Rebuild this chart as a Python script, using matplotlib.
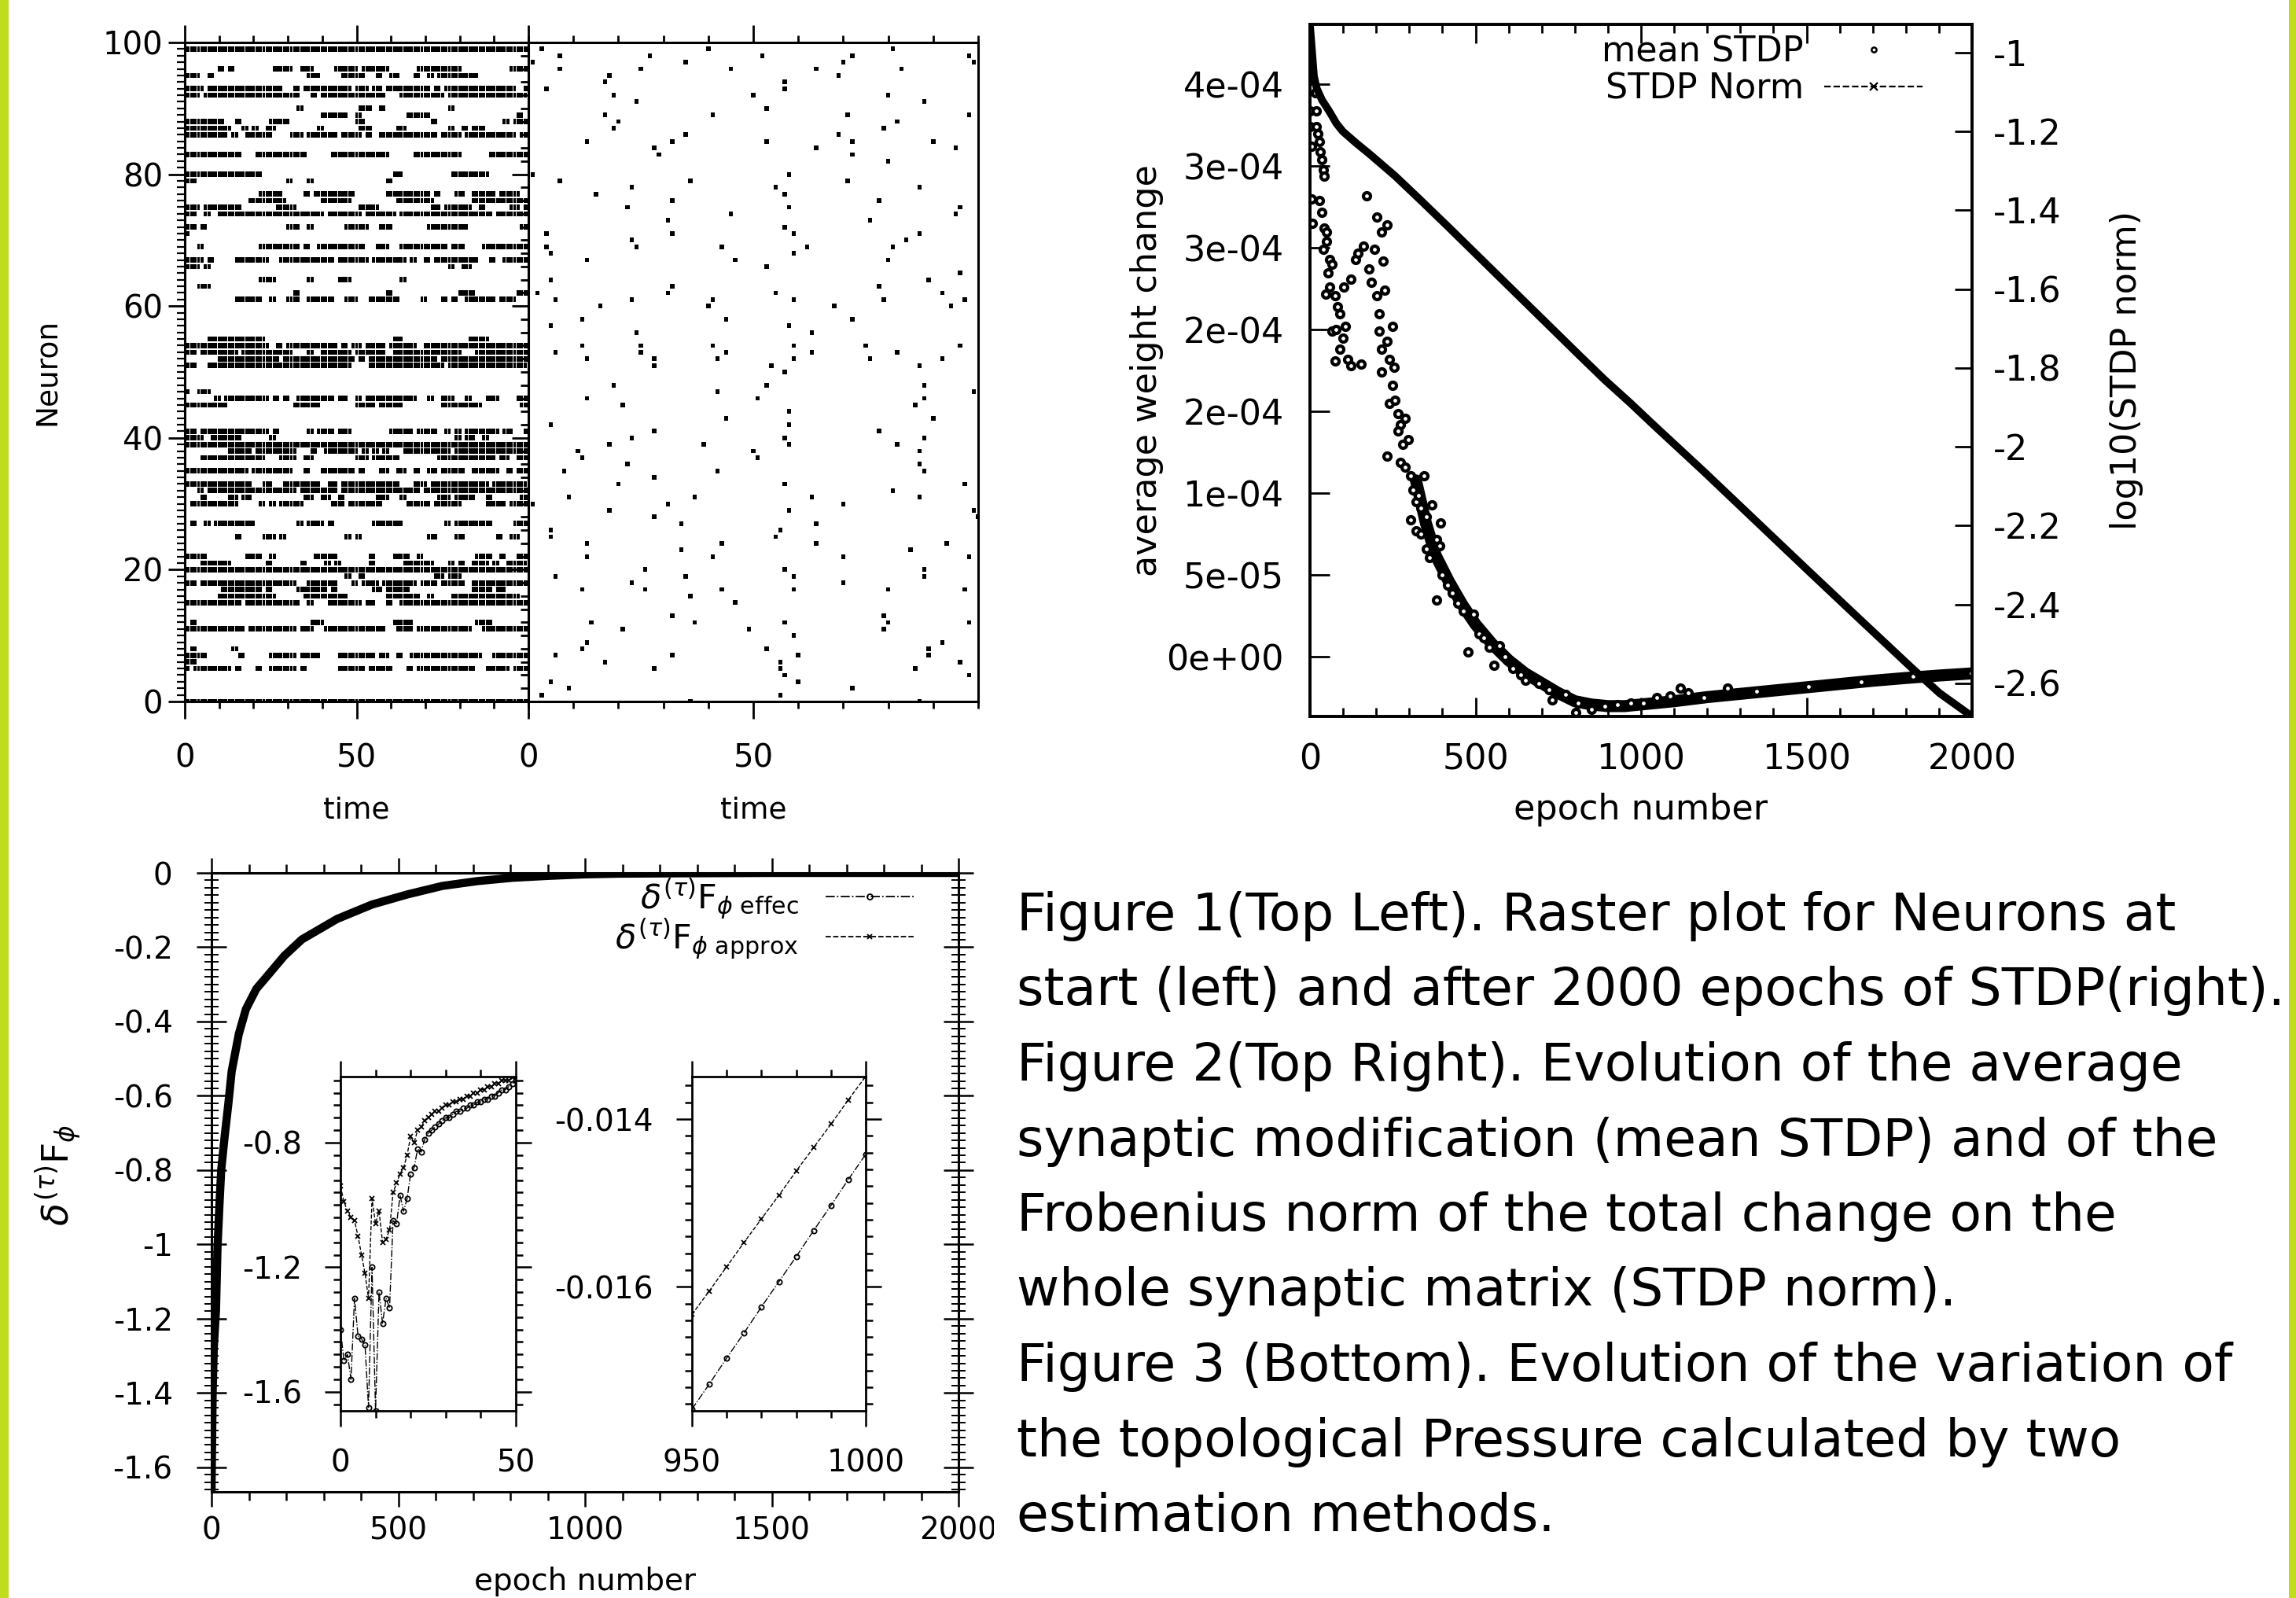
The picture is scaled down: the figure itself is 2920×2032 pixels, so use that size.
import numpy as np
import matplotlib
matplotlib.use('Agg')
import matplotlib.pyplot as plt
from matplotlib.lines import Line2D
from matplotlib.patches import Rectangle
from matplotlib.ticker import MultipleLocator, FixedLocator, FormatStrFormatter

plt.rcParams['font.family'] = ['DejaVu Sans']
plt.rcParams['axes.unicode_minus'] = False
plt.rcParams['mathtext.fontset'] = 'dejavusans'

# ---------------- Figure 1: raster at start (spike runs per neuron, inclusive) ----------------
left_neurons = [99, 96, 95, 93, 92, 90, 89, 88, 87, 86, 83, 80, 79, 77, 76, 75, 74, 72, 71, 69,
                67, 66, 64, 63, 62, 61, 55, 54, 53, 52, 51, 47, 46, 45, 41, 40, 39, 38, 37, 35,
                33, 32, 31, 30, 27, 25, 22, 21, 20, 19, 18, 17, 16, 15, 12, 11, 8, 7, 6, 5, 0]
left_segments = [
    [(0, 100)],
    [(10, 11), (13, 14), (26, 31), (34, 37), (44, 50), (52, 59), (68, 80), (95, 100)],
    [(0, 4), (7, 8), (36, 39), (46, 52), (56, 57), (60, 62), (67, 68), (71, 72), (74, 85)],
    [(0, 5), (7, 28), (32, 33), (35, 48), (50, 53), (55, 57), (59, 71), (73, 74), (76, 96), (99, 100)],
    [(0, 1), (2, 4), (6, 33), (37, 38), (40, 58), (63, 75), (77, 99)],
    [(33, 34), (51, 54), (57, 58), (77, 78)],
    [(40, 47), (50, 51), (65, 71), (97, 98)],
    [(0, 11), (15, 16), (25, 30), (50, 52), (72, 73), (93, 94), (96, 100)],
    [(1, 13), (17, 18), (20, 21), (24, 26), (39, 40), (51, 54), (62, 64), (77, 78), (81, 82), (84, 87)],
    [(0, 12), (14, 15), (18, 25), (31, 34), (36, 44), (46, 51), (53, 54), (57, 73), (75, 80), (82, 96), (98, 100)],
    [(0, 16), (21, 35), (43, 59), (67, 80), (89, 100)],
    [(0, 22), (61, 63), (78, 88)],
    [(1, 3), (30, 31), (36, 37), (59, 60)],
    [(22, 28), (35, 36), (38, 49), (59, 71), (73, 74), (79, 81), (84, 90), (92, 97)],
    [(19, 29), (40, 48), (62, 72), (84, 100)],
    [(1, 4), (6, 16), (27, 32), (51, 56), (72, 74), (76, 83), (86, 87), (95, 97), (99, 100)],
    [(0, 3), (6, 7), (10, 40), (42, 51), (53, 61), (63, 89), (91, 100)],
    [(0, 3), (5, 6), (30, 33), (36, 37), (47, 53), (57, 60), (71, 82), (98, 100)],
    [(0, 1)],
    [(4, 5), (22, 33), (35, 36), (39, 52), (56, 59), (63, 76), (78, 81), (87, 100)],
    [(0, 5), (7, 8), (15, 24), (28, 43), (45, 53), (55, 64), (66, 67), (70, 71), (73, 85), (89, 90), (93, 100)],
    [(0, 4), (6, 7), (77, 78), (81, 83)],
    [(22, 26), (36, 37), (45, 48), (63, 64)],
    [(4, 7)],
    [(32, 33), (59, 60), (80, 84), (97, 100)],
    [(15, 22), (25, 26), (30, 33), (36, 43), (47, 50), (54, 62), (69, 70), (75, 76), (78, 79), (82, 90), (92, 96)],
    [(7, 23), (61, 63), (83, 88)],
    [(0, 24), (27, 28), (30, 35), (36, 44), (46, 47), (49, 51), (53, 58), (60, 67), (70, 73), (74, 92), (93, 100)],
    [(0, 3), (5, 15), (17, 31), (36, 37), (40, 48), (50, 58), (61, 80), (85, 93), (94, 100)],
    [(10, 27), (29, 49), (51, 52), (54, 73), (75, 80), (81, 97), (98, 100)],
    [(0, 3), (7, 28), (29, 48), (54, 75), (77, 99)],
    [(0, 1), (4, 7)],
    [(9, 10), (12, 24), (26, 27), (29, 30), (33, 43), (45, 47), (50, 51), (53, 67), (71, 72), (75, 78), (82, 83), (88, 91), (97, 100)],
    [(0, 12), (32, 39), (50, 55), (57, 63), (75, 86), (98, 100)],
    [(0, 3), (5, 17), (18, 24), (26, 27), (36, 37), (39, 43), (45, 48), (60, 66), (68, 73), (76, 77), (79, 80), (82, 91), (93, 95), (99, 100)],
    [(0, 5), (8, 16), (25, 26), (79, 80), (82, 84), (87, 88)],
    [(0, 100)],
    [(13, 19), (21, 32), (37, 38), (41, 50), (52, 53), (55, 56), (58, 59), (64, 77), (79, 84), (85, 100)],
    [(5, 18), (19, 23), (28, 32), (35, 37), (50, 53), (55, 62), (74, 88), (89, 90), (92, 94), (97, 100)],
    [(0, 3), (4, 18), (20, 31), (35, 36), (40, 49), (51, 52), (57, 59), (62, 64), (67, 68), (71, 73), (75, 81), (84, 91), (94, 95), (97, 100)],
    [(0, 19), (23, 25), (29, 39), (42, 44), (46, 62), (67, 70), (72, 88), (90, 99)],
    [(4, 5), (7, 32), (34, 44), (46, 68), (70, 100)],
    [(0, 0), (5, 6), (13, 15), (17, 19), (35, 37), (40, 42), (45, 46), (56, 59), (63, 64), (74, 77), (79, 84), (88, 89), (98, 100)],
    [(0, 0), (2, 15), (22, 23), (25, 26), (28, 34), (43, 46), (48, 57), (65, 71), (73, 80), (88, 93), (95, 100)],
    [(2, 3), (6, 7), (9, 20), (33, 34), (36, 40), (42, 43), (55, 63), (76, 77), (79, 89), (96, 100)],
    [(15, 16), (23, 26), (28, 29), (47, 48), (50, 51), (71, 73), (79, 81), (91, 92), (95, 97)],
    [(1, 6), (18, 22), (25, 26), (38, 44), (54, 55), (61, 65), (68, 69), (85, 89), (92, 93), (97, 100)],
    [(5, 13), (24, 25), (34, 35), (41, 42), (44, 45), (54, 55), (64, 70), (71, 72), (77, 78), (80, 81), (84, 88), (90, 91), (94, 99)],
    [(0, 100)],
    [(0, 0), (47, 48), (51, 52), (73, 75), (77, 80)],
    [(0, 3), (5, 32), (36, 44), (49, 50), (52, 56), (58, 67), (69, 73), (75, 81), (84, 100)],
    [(11, 22), (24, 25), (33, 41), (43, 44), (55, 57), (59, 65), (84, 89), (91, 93)],
    [(10, 15), (16, 26), (35, 47), (59, 68), (71, 72), (78, 93), (94, 97)],
    [(0, 10), (11, 12), (13, 16), (18, 33), (36, 37), (42, 51), (53, 55), (59, 60), (63, 93), (94, 100)],
    [(2, 3), (37, 40), (61, 66), (85, 89)],
    [(0, 17), (19, 32), (34, 37), (41, 58), (62, 66), (68, 71), (72, 83), (87, 100)],
    [(2, 3), (14, 15)],
    [(0, 6), (16, 17), (25, 32), (34, 39), (45, 55), (57, 59), (62, 63), (66, 70), (71, 86), (90, 100)],
    [(0, 3)],
    [(0, 1), (3, 13), (15, 16), (21, 22), (25, 32), (34, 35), (45, 52), (54, 60), (65, 66), (68, 84), (88, 94), (96, 100)],
    [(0, 100)],
]

# ---------------- Figure 1: raster after 2000 epochs (spike times per neuron) ----------------
right_neurons = [99, 98, 97, 96, 95, 94, 93, 92, 91, 90, 89, 88, 87, 86, 85, 84, 83, 82, 80, 79,
                 78, 77, 76, 75, 74, 73, 72, 71, 70, 69, 68, 67, 66, 65, 64, 63, 62, 61, 60, 58,
                 57, 56, 54, 53, 52, 51, 50, 48, 47, 46, 45, 44, 43, 42, 41, 40, 39, 38, 37, 36,
                 35, 34, 33, 32, 31, 30, 29, 28, 27, 26, 25, 24, 23, 22, 20, 19, 18, 17, 16, 15,
                 13, 12, 11, 10, 9, 8, 7, 6, 5, 4, 3, 2, 1, 0]
right_times = [
    [3, 40, 81], [7, 27, 52, 72, 98], [1, 35, 70, 99], [7, 25, 45, 64, 83], [18, 69], [17, 57],
    [4, 57], [19, 50, 80], [24, 88], [53], [17, 41, 71, 98], [20, 82], [19, 79], [35, 69],
    [13, 32, 53, 72, 90], [28, 64, 95], [29, 72], [80], [1, 58], [7, 36, 71],
    [23, 55, 87], [15, 57], [32, 78], [22, 58, 96], [45, 95], [31, 76], [57], [4, 32, 59, 87],
    [23, 84], [4, 24, 43, 62, 81], [5, 59], [13, 46, 80], [53], [96], [5, 89], [32, 78],
    [2, 31, 55, 92], [6, 23, 41, 59, 79, 97], [16, 40, 68, 94], [12, 44, 72],
    [5, 58], [24, 63], [12, 25, 41, 59, 75, 96], [6, 25, 44, 63, 82], [13, 28, 42, 59, 76, 92],
    [28, 54, 87], [57], [19, 53, 88], [42, 99], [13, 51, 88], [21, 86], [58], [44, 90],
    [5, 58], [28, 78], [23, 57, 88], [18, 39, 58, 82], [11, 50, 87], [12, 51], [22, 87],
    [8, 42, 88], [28], [20, 57, 97], [81], [9, 37, 63, 87], [1, 31, 70], [18, 58, 99],
    [28, 100], [34, 64], [5, 56], [5, 55], [13, 43, 64, 93], [34, 85], [13, 41, 70, 98],
    [26, 57, 88], [6, 35, 59, 88], [23, 70], [12, 26, 43, 59, 80, 97], [36], [46],
    [32, 79], [14, 37, 57, 80, 98], [21, 49, 79], [59], [13, 92], [12, 53, 89],
    [6, 32, 60, 89], [17, 56, 96], [28, 56, 86], [57, 98], [5, 60], [9, 72], [3, 56], [36, 87],
]

# ---------------- Figure 2: mean STDP (units of 1e-4) and log10(STDP norm) ----------------
mean_epoch = [0, 0, 0, 4, 16, 20, 20, 24, 28, 32, 36, 40, 43, 4, 8, 28, 36, 43, 51, 51,
              40, 59, 67, 55, 59, 47, 75, 83, 91, 67, 79, 107, 99, 91, 75, 115, 123, 154, 103, 123,
              138, 146, 162, 170, 178, 186, 194, 202, 202, 209, 217, 221, 225, 233, 209, 217, 233, 249, 217, 241,
              253, 249, 241, 257, 265, 273, 288, 233, 265, 281, 296, 273, 288, 304, 312, 320, 328, 336, 344, 304,
              320, 336, 352, 352, 368, 360, 383, 391, 395, 399, 415, 431, 446, 462, 383, 494, 510, 478, 526, 541,
              557, 573, 589, 613, 636, 652, 692, 723, 731, 771, 803, 810, 850, 890, 929, 969, 1008, 1048, 1087, 1119,
              1143, 1190, 1261, 1348, 1506, 1664, 1823, 1997]
mean_val = [3.55, 3.34, 3.24, 3.12, 3.45, 3.34, 3.24, 3.20, 3.15, 3.09, 3.04, 2.98, 2.94, 2.80, 2.65, 2.79, 2.72, 2.62, 2.60, 2.54,
            2.49, 2.43, 2.40, 2.35, 2.26, 2.22, 2.21, 2.14, 2.10, 1.99, 2.00, 2.02, 1.95, 1.88, 1.81, 1.82, 1.78, 1.79, 2.26, 2.31,
            2.43, 2.47, 2.51, 2.82, 2.37, 2.29, 2.49, 2.69, 2.21, 2.10, 2.60, 2.42, 2.24, 2.64, 1.99, 1.88, 1.93, 2.02, 1.74, 1.82,
            1.77, 1.66, 1.55, 1.57, 1.49, 1.42, 1.46, 1.23, 1.38, 1.30, 1.33, 1.19, 1.16, 1.11, 1.02, 0.95, 0.99, 0.91, 1.11, 0.84,
            0.77, 0.75, 0.66, 0.86, 0.93, 0.61, 0.72, 0.68, 0.82, 0.50, 0.44, 0.39, 0.33, 0.28, 0.35, 0.26, 0.14, 0.03, 0.12, 0.06,
            -0.05, 0.07, 0.00, -0.07, -0.11, -0.14, -0.16, -0.20, -0.26, -0.23, -0.34, -0.28, -0.32, -0.30, -0.29, -0.28, -0.28, -0.25, -0.24, -0.19,
            -0.22, -0.25, -0.19, -0.21, -0.18, -0.15, -0.12, -0.10]
mean_band_epoch = [320, 350, 380, 420, 460, 500, 550, 600, 650, 700, 750, 800, 850, 900, 950, 1000,
                   1100, 1200, 1300, 1400, 1500, 1600, 1700, 1800, 1900, 2000]
mean_band_val = [1.08, 0.82, 0.62, 0.46, 0.32, 0.20, 0.08, -0.02, -0.10, -0.16, -0.22, -0.27, -0.29,
                 -0.30, -0.30, -0.29, -0.27, -0.245, -0.225, -0.205, -0.185, -0.165, -0.145, -0.128, -0.113, -0.10]
norm_epoch = [0, 12, 20, 36, 59, 80, 99, 140, 178, 257, 336, 415, 494, 573, 652, 731, 810, 890, 969,
              1032, 1190, 1348, 1506, 1664, 1823, 1902, 2000]
norm_val = [-0.93, -1.06, -1.09, -1.12, -1.15, -1.18, -1.20, -1.23, -1.256, -1.313, -1.376, -1.44, -1.505,
            -1.57, -1.635, -1.70, -1.765, -1.83, -1.89, -1.94, -2.063, -2.189, -2.315, -2.44, -2.565,
            -2.625, -2.684]
stdp_ticks = [0, 0.5, 1.0, 1.5, 2.0, 2.5, 3.0, 3.5]
stdp_tick_labels = ['0e+00', '5e-05', '1e-04', '2e-04', '2e-04', '3e-04', '3e-04', '4e-04']
norm_ticks = [-1, -1.2, -1.4, -1.6, -1.8, -2, -2.2, -2.4, -2.6]

# ---------------- Figure 3: variation of the topological pressure ----------------
main_epoch = [0, 3, 6, 12, 16, 21, 26, 35, 45, 54, 73, 92, 120, 148, 195, 242, 336, 430, 524,
              618, 712, 806, 900, 994, 1088, 1250, 1500, 1750, 2000]
main_val = [-1.662, -1.40, -1.28, -1.175, -1.009, -0.898, -0.799, -0.711, -0.622, -0.534, -0.434, -0.367,
            -0.312, -0.279, -0.223, -0.179, -0.124, -0.085, -0.058, -0.035, -0.022, -0.013, -0.008, -0.004,
            -0.002, -0.001, 0.0, 0.0, 0.0]
ins1_epoch = list(range(0, 51))
ins1_approx = [-0.94, -0.99, -1.02, -1.04, -1.05, -1.10, -1.16, -1.22, -1.30, -0.98, -1.06, -1.02, -1.12,
               -1.11, -1.08, -0.96, -0.93, -0.90, -0.88, -0.84, -0.78, -0.80, -0.76, -0.75, -0.73, -0.72,
               -0.71, -0.70, -0.70, -0.69, -0.68, -0.68, -0.67, -0.67, -0.66, -0.66, -0.65, -0.65, -0.64,
               -0.64, -0.63, -0.63, -0.62, -0.62, -0.61, -0.61, -0.60, -0.60, -0.60, -0.59, -0.59]
ins1_effec = [-1.40, -1.50, -1.48, -1.56, -1.30, -1.42, -1.43, -1.45, -1.65, -1.20, -1.66, -1.28, -1.38,
              -1.30, -1.33, -1.05, -1.06, -0.97, -1.02, -0.98, -0.90, -0.88, -0.82, -0.83, -0.79, -0.77,
              -0.76, -0.75, -0.74, -0.73, -0.72, -0.72, -0.71, -0.70, -0.70, -0.69, -0.69, -0.68, -0.68,
              -0.67, -0.67, -0.66, -0.66, -0.65, -0.65, -0.64, -0.63, -0.63, -0.62, -0.61, -0.60]
ins2_epoch = [950, 955, 960, 965, 970, 975, 980, 985, 990, 995, 1000]
ins2_approx = [-0.01633, -0.01605, -0.01576, -0.01547, -0.01519, -0.01491, -0.01462, -0.01434,
               -0.01406, -0.01377, -0.01349]
ins2_effec = [-0.01746, -0.01716, -0.01685, -0.01655, -0.01624, -0.01594, -0.01564, -0.01533,
              -0.01503, -0.01472, -0.01442]

caption_lines = [
    "Figure 1(Top Left). Raster plot for Neurons at",
    "start (left) and after 2000 epochs of STDP(right).",
    "Figure 2(Top Right). Evolution of the average",
    "synaptic modification (mean STDP) and of the",
    "Frobenius norm of the total change on the",
    "whole synaptic matrix (STDP norm).",
    "Figure 3 (Bottom). Evolution of the variation of",
    "the topological Pressure calculated by two",
    "estimation methods.",
]

W, H = 2920, 2032
fig = plt.figure(figsize=(W / 100, H / 100), dpi=100)
fig.patch.set_facecolor('white')


def frame(x0, y0, x1, y1):
    # pixel box (top-left origin) -> figure fraction
    return [x0 / W, 1 - y1 / H, (x1 - x0) / W, (y1 - y0) / H]


def thick(ax, lw):
    for s in ax.spines.values():
        s.set_linewidth(lw)


# ---- raster, left panel ----
axL = fig.add_axes(frame(235, 54, 672, 892))
lt, ln = [], []
for n, segs in zip(left_neurons, left_segments):
    for a, b in segs:
        for t in range(a, b + 1):
            lt.append(t)
            ln.append(n)
axL.bar(lt, 0.8, width=0.9, bottom=np.array(ln) - 0.4, color='black', linewidth=0)
axL.set_xlim(0, 100)
axL.set_ylim(0, 100)
axL.xaxis.set_major_locator(FixedLocator([0, 50]))
axL.xaxis.set_minor_locator(MultipleLocator(10))
axL.yaxis.set_major_locator(MultipleLocator(20))
axL.yaxis.set_minor_locator(MultipleLocator(1))
axL.tick_params(axis='x', which='both', direction='out', top=True, bottom=True, width=2)
axL.tick_params(axis='x', which='major', length=16, pad=22, labelsize=29)
axL.tick_params(axis='x', which='minor', length=6.5)
axL.tick_params(axis='y', which='both', direction='out', left=True, right=False, width=2)
axL.tick_params(axis='y', which='major', length=15, pad=5, labelsize=29)
axL.tick_params(axis='y', which='minor', length=7, width=1.6)
axL.set_xlabel('time', fontsize=27, va='center')
axL.xaxis.set_label_coords(0.5, -0.165)
axL.set_ylabel('Neuron', fontsize=27, va='center')
axL.yaxis.set_label_coords(-0.40, 0.5)
thick(axL, 2.2)

# ---- raster, right panel ----
axR = fig.add_axes(frame(672, 54, 1244, 892))
rt, rn = [], []
for n, times in zip(right_neurons, right_times):
    for t in times:
        rt.append(t)
        rn.append(n)
axR.bar(rt, 0.7, width=0.95, bottom=np.array(rn) - 0.35, color='black', linewidth=0)
axR.set_xlim(0, 100)
axR.set_ylim(0, 100)
axR.xaxis.set_major_locator(FixedLocator([0, 50]))
axR.xaxis.set_minor_locator(MultipleLocator(10))
axR.yaxis.set_major_locator(MultipleLocator(20))
axR.yaxis.set_minor_locator(MultipleLocator(2))
axR.tick_params(axis='x', which='both', direction='out', top=True, bottom=True, width=2)
axR.tick_params(axis='x', which='major', length=16, pad=22, labelsize=29)
axR.tick_params(axis='x', which='minor', length=6.5)
axR.tick_params(axis='y', which='both', direction='out', left=True, right=False, labelleft=False, width=2)
axR.tick_params(axis='y', which='major', length=15)
axR.tick_params(axis='y', which='minor', length=7)
axR.set_xlabel('time', fontsize=27, va='center')
axR.xaxis.set_label_coords(0.5, -0.165)
thick(axR, 2.2)

# ---- mean STDP / STDP norm ----
ax2 = fig.add_axes(frame(1666, 31, 2508, 911))
ax2.plot(mean_band_epoch, np.array(mean_band_val) * 1e-4, color='black', lw=11,
         solid_capstyle='round', zorder=2)
ax2.plot(mean_epoch, np.array(mean_val) * 1e-4, ls='none', marker='o', ms=6.5,
         mfc='white', mec='black', mew=3.0, zorder=3)
ax2.set_xlim(0, 2000)
ax2.set_ylim(-3.63e-5, 3.867e-4)
ax2.set_yticks(np.array(stdp_ticks) * 1e-4)
ax2.set_yticklabels(stdp_tick_labels)
ax2.xaxis.set_major_locator(MultipleLocator(500))
ax2.xaxis.set_minor_locator(MultipleLocator(100))
ax2.tick_params(axis='x', which='both', direction='in', top=True, bottom=True, width=2)
ax2.tick_params(axis='x', which='major', length=17, pad=24, labelsize=32)
ax2.tick_params(axis='x', which='minor', length=8)
ax2.tick_params(axis='y', direction='in', left=True, right=False, length=18, width=2,
                pad=24, labelsize=32)
ax2.set_xlabel('epoch number', fontsize=32, va='center')
ax2.xaxis.set_label_coords(0.5, -0.135)
ax2.set_ylabel('average weight change', fontsize=32, va='center')
ax2.yaxis.set_label_coords(-0.247, 0.5)

ax2b = ax2.twinx()
ax2b.plot(norm_epoch, norm_val, color='black', lw=7, solid_capstyle='round')
ax2b.set_ylim(-2.684, -0.9286)
ax2b.yaxis.set_major_locator(FixedLocator(norm_ticks))
ax2b.yaxis.set_major_formatter(FormatStrFormatter('%g'))
ax2b.tick_params(axis='y', direction='in', left=False, right=True, length=16, width=2,
                 pad=19, labelsize=32)
ax2b.set_ylabel('log10(STDP norm)', fontsize=32, va='center', rotation=90)
ax2b.yaxis.set_label_coords(1.233, 0.5)
thick(ax2, 2.6)
thick(ax2b, 2.6)
h_mean = Line2D([], [], ls='none', marker='o', ms=4.5, mfc='white', mec='black', mew=1.8)
h_norm = Line2D([], [], ls='--', color='black', lw=1.6, marker='x', ms=7, mew=1.6)
ax2b.legend([h_mean, h_norm], ['mean STDP', 'STDP Norm'], loc='upper right',
            bbox_to_anchor=(0.925, 0.985), frameon=False, markerfirst=False, fontsize=32,
            handlelength=2.8, handletextpad=0.6, labelspacing=0.1, borderpad=0,
            borderaxespad=0, numpoints=1)

# ---- topological pressure ----
ax3 = fig.add_axes(frame(269, 1110, 1219, 1897))
ax3.plot(main_epoch, main_val, color='black', lw=7.5, solid_capstyle='round')
ax3.set_xlim(0, 2000)
ax3.set_ylim(-1.666, 0)
ax3.xaxis.set_major_locator(MultipleLocator(500))
ax3.xaxis.set_minor_locator(MultipleLocator(100))
ax3.yaxis.set_major_locator(FixedLocator([0, -0.2, -0.4, -0.6, -0.8, -1.0, -1.2, -1.4, -1.6]))
ax3.yaxis.set_minor_locator(MultipleLocator(0.02))
ax3.yaxis.set_major_formatter(FormatStrFormatter('%g'))
ax3.tick_params(axis='x', which='both', direction='out', top=True, bottom=True, width=1.8)
ax3.tick_params(axis='x', which='major', length=14, pad=8, labelsize=28)
ax3.tick_params(axis='x', which='minor', length=8)
ax3.tick_params(axis='y', which='both', direction='inout', left=True, right=True, width=1.8)
ax3.tick_params(axis='y', which='major', length=27, pad=22, labelsize=28)
ax3.tick_params(axis='y', which='minor', length=13, width=1.4)
ax3.set_xlabel('epoch number', fontsize=28)
ax3.xaxis.set_label_coords(0.5, -0.121)
ax3.set_ylabel(r'$\delta^{(\tau)}\mathrm{F}_{\phi}$', fontsize=34, va='center')
ax3.yaxis.set_label_coords(-0.205, 0.512)
thick(ax3, 2.2)
h_eff = Line2D([], [], ls='-.', color='black', lw=1.3, marker='o', ms=5, mfc='none', mew=1.3)
h_app = Line2D([], [], ls='--', color='black', lw=1.3, marker='x', ms=5, mew=1.3)
ax3.legend([h_eff, h_app],
           [r'$\delta^{(\tau)}\mathrm{F}_{\phi\ \mathrm{effec}}$',
            r'$\delta^{(\tau)}\mathrm{F}_{\phi\ \mathrm{approx}}$'],
           loc='upper right', bbox_to_anchor=(0.94, 0.995), frameon=False, markerfirst=False,
           fontsize=31, handlelength=2.6, handletextpad=0.8, labelspacing=-0.1,
           borderpad=0, borderaxespad=0, numpoints=1)

# insets
for box, ex, ap, xs, yl, xmaj, xmin_, ymaj, ymin_ in [
    ((433, 1369, 656, 1794), ins1_effec, ins1_approx, ins1_epoch, (-1.661, -0.588),
     [0, 50], 10, [-0.8, -1.2, -1.6], 0.04),
    ((880, 1369, 1101, 1794), ins2_effec, ins2_approx, ins2_epoch, (-0.01748, -0.013493),
     [950, 1000], 10, [-0.014, -0.016], 0.0002),
]:
    ia = fig.add_axes(frame(*box))
    ia.plot(xs, ex, ls='-.', color='black', lw=1.0, marker='o', ms=4.5, mfc='none', mew=1.3)
    ia.plot(xs, ap, ls='--', color='black', lw=1.0, marker='x', ms=5, mew=1.3)
    ia.set_xlim(xs[0], xs[-1])
    ia.set_ylim(*yl)
    ia.xaxis.set_major_locator(FixedLocator(xmaj))
    ia.xaxis.set_minor_locator(MultipleLocator(xmin_))
    ia.yaxis.set_major_locator(FixedLocator(ymaj))
    ia.yaxis.set_minor_locator(MultipleLocator(ymin_))
    ia.xaxis.set_major_formatter(FormatStrFormatter('%g'))
    ia.yaxis.set_major_formatter(FormatStrFormatter('%g'))
    ia.tick_params(which='both', direction='out', top=True, bottom=True, left=True, right=True, width=1.8)
    ia.tick_params(which='major', length=14.4, labelsize=28)
    ia.tick_params(which='minor', length=6.5)
    ia.tick_params(axis='x', which='major', pad=20)
    ia.tick_params(axis='y', which='major', pad=21)
    thick(ia, 2.0)

# caption block
fig.add_artist(Rectangle((1264 / W, 0), (2911 - 1264) / W, (H - 1080) / H,
                         transform=fig.transFigure, facecolor='white', edgecolor='none', zorder=5))
for k, line in enumerate(caption_lines):
    fig.text(1293 / W, 1 - (1183 + k * 95.5) / H, line, fontsize=47.7, ha='left',
             va='baseline', zorder=6)

# green page edges
green = '#bfdc1e'
fig.add_artist(Rectangle((0, 0), 11 / W, 1, transform=fig.transFigure,
                         facecolor=green, edgecolor='none', zorder=10))
fig.add_artist(Rectangle((2911 / W, 0), 9 / W, 1, transform=fig.transFigure,
                         facecolor=green, edgecolor='none', zorder=10))

fig.savefig('out.png', dpi=100)
